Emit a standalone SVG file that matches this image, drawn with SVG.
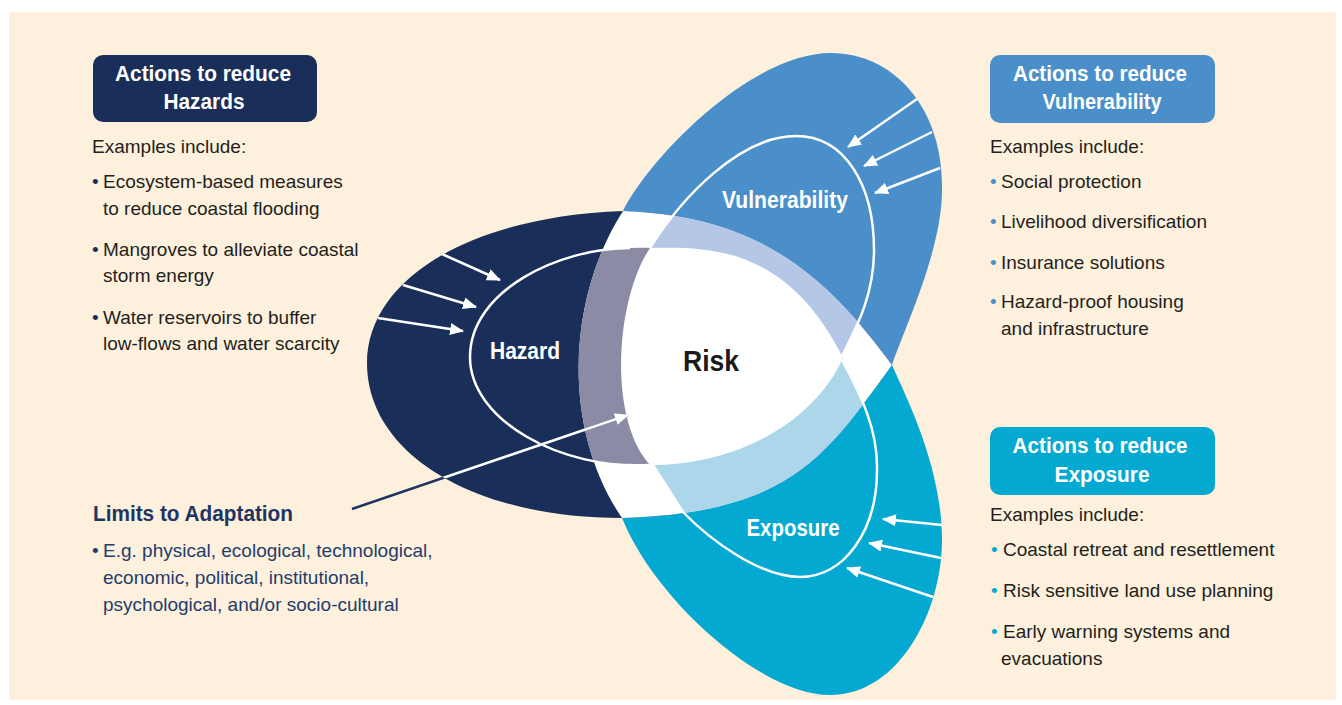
<svg xmlns="http://www.w3.org/2000/svg" width="1342" height="705" viewBox="0 0 1342 705">
<defs>
<style>
.body{font-family:"Liberation Sans",Arial,sans-serif;font-size:19px;fill:#231f20}
.lim{font-family:"Liberation Sans",Arial,sans-serif;font-size:19px;fill:#233d6b}
.hdr{font-family:"Liberation Sans",Arial,sans-serif;font-size:22px;font-weight:bold;fill:#ffffff}
.lbl{font-family:"Liberation Sans",Arial,sans-serif;font-size:23px;font-weight:bold;fill:#ffffff}
.inner{fill:none;stroke:#ffffff;stroke-width:2.5}
.arr{stroke:#ffffff;stroke-width:2.5;fill:none;marker-end:url(#ah)}
</style>
<marker id="ah" viewBox="0 0 14 12" refX="13" refY="6" markerWidth="14" markerHeight="12" markerUnits="userSpaceOnUse" orient="auto"><path d="M0,0 L14,6 L0,12 Z" fill="#ffffff"/></marker>
<clipPath id="wz"><path d="M623,211 C753,216 821,268 892,365 C827,454 792,513 622,518 C562,430 566,300 623,211 Z"/></clipPath>
<clipPath id="hzc"><path d="M892,365 C821,268 753,216 623,211 C463,217 367,283 367,363 C367,453 472,518 622,518 C792,513 827,454 892,365 Z"/></clipPath>
</defs>
<rect x="0" y="0" width="1342" height="705" fill="#ffffff"/>
<rect x="9" y="12" width="1327" height="688" fill="#fdf0dd"/>

<g id="vulnerability-node">
<path d="M623,211 C650,157 751,53 831,53 C895,53 944,110 942,190 C942,250 905,327 892,365 Z" fill="#4a8fca"/>
</g>
<g id="exposure-node">
<path d="M622,518 C654,598 760,695 830,695 C900,695 942,610 942,540 C942,470 910,405 892,365 Z" fill="#04a9d1"/>
</g>
<g id="hazard-node">
<path d="M892,365 C821,268 753,216 623,211 C463,217 367,283 367,363 C367,453 472,518 622,518 C792,513 827,454 892,365 Z" fill="#192f5a"/>
</g>
<g id="overlaps">
<path d="M623,211 C753,216 821,268 892,365 C827,454 792,513 622,518 C562,430 566,300 623,211 Z" fill="#ffffff"/>
<g clip-path="url(#wz)">
<path d="M843,358 C789,250 710,246 630,248 C560,248 470,290 470,357 C470,420 560,470 650,465 C740,465 815,420 843,358 Z" fill="#8b8ba5"/>
<path d="M650,248 C682,197 740,136 796,136 C845,136 874,185 874,250 C874,300 852,335 842,356 Z" fill="#b4c7e6"/>
<path d="M842,360 C861,395 878,430 877,470 C877,530 845,577 800,577 C760,577 710,540 683,512 L653,465 Z" fill="#acd7ea"/>
</g>
</g>
<g id="risk-node">
<path d="M650,248 C715,246 789,250 843,358 C815,420 740,465 650,465 C608,420 615,300 650,248 Z" fill="#ffffff"/>
<text x="711" y="371" text-anchor="middle" font-family="Liberation Sans, Arial, sans-serif" font-size="30" font-weight="bold" fill="#1a1a1a" textLength="56" lengthAdjust="spacingAndGlyphs">Risk</text>
</g>
<g id="inner-outlines">
<path class="inner" d="M630,248 C560,248 470,290 470,357 C470,420 560,470 650,465"/>
<path class="inner" d="M650,248 C682,197 740,136 796,136 C845,136 874,185 874,250 C874,300 852,335 842,356"/>
<path class="inner" d="M842,360 C861,395 878,430 877,470 C877,530 845,577 800,577 C760,577 710,540 683,512 L653,465"/>
</g>
<g id="labels">
<text class="lbl" x="525" y="359" text-anchor="middle" textLength="70" lengthAdjust="spacingAndGlyphs">Hazard</text>
<text class="lbl" x="785" y="208" text-anchor="middle" textLength="126" lengthAdjust="spacingAndGlyphs">Vulnerability</text>
<text class="lbl" x="793" y="536" text-anchor="middle" textLength="93" lengthAdjust="spacingAndGlyphs">Exposure</text>
</g>

<g id="connectors">
<line class="arr" x1="442" y1="254" x2="500" y2="280"/>
<line class="arr" x1="403" y1="285" x2="476" y2="307"/>
<line class="arr" x1="378" y1="318" x2="463" y2="331"/>
<line class="arr" x1="917" y1="99" x2="848" y2="147"/>
<line class="arr" x1="932" y1="132" x2="864" y2="166"/>
<line class="arr" x1="940" y1="168" x2="875" y2="193"/>
<line class="arr" x1="942" y1="525" x2="883" y2="519"/>
<line class="arr" x1="941" y1="558" x2="869" y2="543"/>
<line class="arr" x1="933" y1="597" x2="847" y2="568"/>
<line x1="352" y1="509" x2="628" y2="415" stroke="#1e3562" stroke-width="2.5"/>
<line class="arr" x1="352" y1="509" x2="628" y2="415" clip-path="url(#hzc)"/>
</g>

<g id="box-hazards">
<rect x="93" y="55" width="224" height="67" rx="10" fill="#192f5a"/>
<text class="hdr" x="203" y="81" text-anchor="middle" textLength="176" lengthAdjust="spacingAndGlyphs">Actions to reduce</text>
<text class="hdr" x="204" y="109" text-anchor="middle" textLength="81" lengthAdjust="spacingAndGlyphs">Hazards</text>
<text class="body" x="92" y="153">Examples include:</text>
<text class="body" x="92" y="188"><tspan fill="#192f5a">•</tspan><tspan x="103">Ecosystem-based measures</tspan></text>
<text class="body" x="103" y="215">to reduce coastal flooding</text>
<text class="body" x="92" y="256"><tspan fill="#192f5a">•</tspan><tspan x="103">Mangroves to alleviate coastal</tspan></text>
<text class="body" x="103" y="282">storm energy</text>
<text class="body" x="92" y="324"><tspan fill="#192f5a">•</tspan><tspan x="103">Water reservoirs to buffer</tspan></text>
<text class="body" x="103" y="350">low-flows and water scarcity</text>
</g>

<g id="box-vulnerability">
<rect x="990" y="55" width="225" height="68" rx="10" fill="#4a8fca"/>
<text class="hdr" x="1100" y="81" text-anchor="middle" textLength="174" lengthAdjust="spacingAndGlyphs">Actions to reduce</text>
<text class="hdr" x="1102" y="109" text-anchor="middle" textLength="119" lengthAdjust="spacingAndGlyphs">Vulnerability</text>
<text class="body" x="990" y="153">Examples include:</text>
<text class="body" x="990" y="188"><tspan fill="#4a8fca">•</tspan><tspan x="1001">Social protection</tspan></text>
<text class="body" x="990" y="228"><tspan fill="#4a8fca">•</tspan><tspan x="1001">Livelihood diversification</tspan></text>
<text class="body" x="990" y="269"><tspan fill="#4a8fca">•</tspan><tspan x="1001">Insurance solutions</tspan></text>
<text class="body" x="990" y="308"><tspan fill="#4a8fca">•</tspan><tspan x="1001">Hazard-proof housing</tspan></text>
<text class="body" x="1001" y="335">and infrastructure</text>
</g>

<g id="box-exposure">
<rect x="990" y="427" width="225" height="68" rx="10" fill="#04a9d1"/>
<text class="hdr" x="1100" y="453" text-anchor="middle" textLength="175" lengthAdjust="spacingAndGlyphs">Actions to reduce</text>
<text class="hdr" x="1102" y="482" text-anchor="middle" textLength="95" lengthAdjust="spacingAndGlyphs">Exposure</text>
<text class="body" x="990" y="521">Examples include:</text>
<text class="body" x="991" y="556"><tspan fill="#04a9d1">•</tspan><tspan x="1003">Coastal retreat and resettlement</tspan></text>
<text class="body" x="991" y="597"><tspan fill="#04a9d1">•</tspan><tspan x="1003">Risk sensitive land use planning</tspan></text>
<text class="body" x="991" y="638"><tspan fill="#04a9d1">•</tspan><tspan x="1003">Early warning systems and</tspan></text>
<text class="body" x="1001" y="665">evacuations</text>
</g>

<g id="limits">
<text x="93" y="521" font-family="Liberation Sans, Arial, sans-serif" font-size="22" font-weight="bold" fill="#1e3562" textLength="200" lengthAdjust="spacingAndGlyphs">Limits to Adaptation</text>
<text class="lim" x="92" y="557"><tspan>•</tspan><tspan x="103">E.g. physical, ecological, technological,</tspan></text>
<text class="lim" x="103" y="584">economic, political, institutional,</text>
<text class="lim" x="103" y="611">psychological, and/or socio-cultural</text>
</g>
</svg>
